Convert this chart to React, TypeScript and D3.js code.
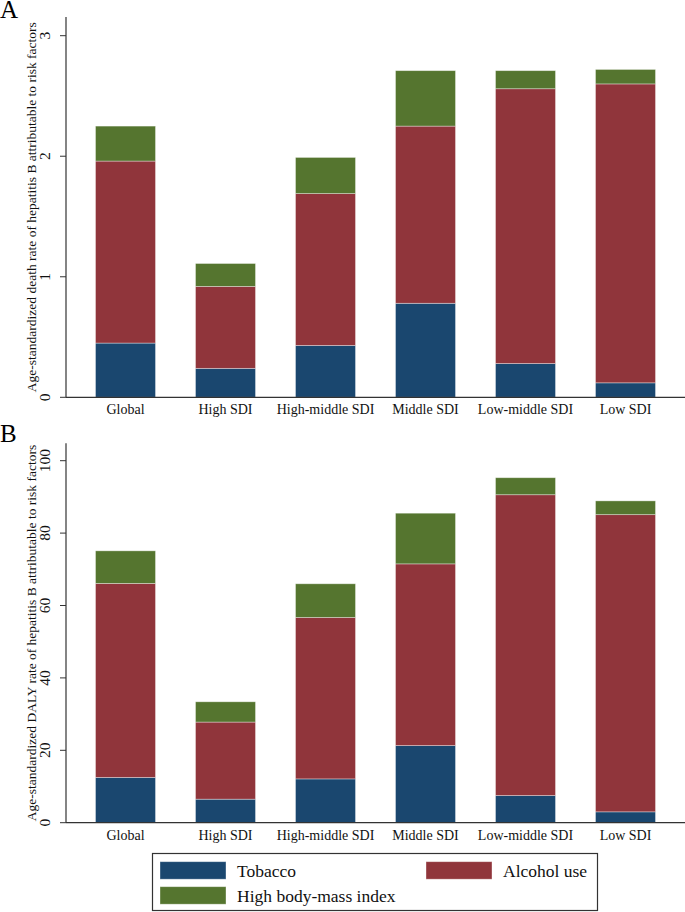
import React from 'react';
import * as d3 from 'd3';

const categories = ['Global', 'High SDI', 'High-middle SDI', 'Middle SDI', 'Low-middle SDI', 'Low SDI'];
const seriesNames = ['Tobacco', 'Alcohol use', 'High body-mass index'];
const seriesColors = ['#1a476f', '#90353b', '#55752f'];

// panel A: age-standardized death rate
const tobaccoDeath = [0.45, 0.24, 0.43, 0.78, 0.28, 0.12];
const alcoholDeath = [1.51, 0.68, 1.26, 1.47, 2.28, 2.48];
const bmiDeath = [0.29, 0.19, 0.30, 0.46, 0.15, 0.12];
const deathTicks = [0, 1, 2, 3];

// panel B: age-standardized DALY rate
const tobaccoDaly = [12.5, 6.5, 12.1, 21.3, 7.5, 3.0];
const alcoholDaly = [53.6, 21.3, 44.6, 50.2, 83.1, 82.1];
const bmiDaly = [9.0, 5.6, 9.3, 14.0, 4.7, 3.8];
const dalyTicks = [0, 20, 40, 60, 80, 100];

const font = '"Liberation Serif", "Times New Roman", serif';
const W = 685;
const H = 912;
const axisX = 66;

type PanelProps = {
  letter: string;
  letterY: number;
  title: string;
  series: number[][];
  ticks: number[];
  maxTick: number;
  y0: number; // pixel of 0
  yMax: number; // pixel of maxTick
  axisTop: number;
};

const Panel: React.FC<PanelProps> = ({ letter, letterY, title, series, ticks, maxTick, y0, yMax, axisTop }) => {
  const x = d3.scaleBand<string>().domain(categories).range([75.5, 675.5]).paddingInner(0.4).paddingOuter(0.2);
  const y = d3.scaleLinear().domain([0, maxTick]).range([y0, yMax]);

  const rows = categories.map((c, i) => {
    const r: any = { cat: c };
    seriesNames.forEach((s, j) => (r[s] = series[j][i]));
    return r;
  });
  const stacked = d3.stack<any>().keys(seriesNames)(rows);
  const titleMid = (y0 + axisTop) / 2;

  return (
    <g>
      <text x={0} y={letterY} fontSize={25} fontFamily={font}>{letter}</text>
      {stacked.map((layer, j) => (
        <g key={layer.key}>
          {layer.map((d, i) => (
            <rect
              key={i}
              x={x(categories[i])}
              width={x.bandwidth()}
              y={y(d[1])}
              height={y(d[0]) - y(d[1])}
              fill={seriesColors[j]}
              stroke="#ffffff"
              strokeOpacity={0.45}
              strokeWidth={0.8}
            />
          ))}
        </g>
      ))}
      {/* axes */}
      <line x1={axisX} x2={W} y1={y0} y2={y0} stroke="#333" strokeWidth={1.2} />
      <line x1={axisX} x2={axisX} y1={y0} y2={axisTop} stroke="#333" strokeWidth={1.2} />
      {ticks.map(t => (
        <g key={t}>
          <line x1={axisX - 6} x2={axisX} y1={y(t)} y2={y(t)} stroke="#333" strokeWidth={1} />
          <text
            transform={`translate(50, ${y(t)}) rotate(-90)`}
            textAnchor="middle"
            fontSize={15.5}
            fontFamily={font}
            fill="#111"
          >
            {t}
          </text>
        </g>
      ))}
      {categories.map(c => (
        <text key={c} x={(x(c) as number) + x.bandwidth() / 2} y={y0 + 17} textAnchor="middle" fontSize={14} fontFamily={font} fill="#111">
          {c}
        </text>
      ))}
      <text transform={`translate(36, ${titleMid}) rotate(-90)`} textAnchor="middle" fontSize={13.5} fontFamily={font} fill="#111">
        {title}
      </text>
    </g>
  );
};

const Legend: React.FC = () => {
  const pos = [
    { x: 160, y: 861.7 },
    { x: 426, y: 861.7 },
    { x: 160, y: 886.7 },
  ];
  return (
    <g>
      <rect x={152.5} y={853.5} width={445} height={57} fill="#fff" stroke="#333" strokeWidth={1.2} />
      {seriesNames.map((s, i) => (
        <g key={s}>
          <rect x={pos[i].x} y={pos[i].y} width={66} height={17.5} fill={seriesColors[i]} stroke="#ffffff" strokeOpacity={0.45} strokeWidth={0.8} />
          <text x={pos[i].x + 77} y={pos[i].y + 15} fontSize={17.5} fontFamily={font} fill="#111">
            {s}
          </text>
        </g>
      ))}
    </g>
  );
};

export default function App() {
  return (
    <div style={{ position: 'absolute', left: 0, top: 0 }}>
      <svg width={W} height={H} style={{ display: 'block', background: '#fff' }}>
        <Panel
          letter="A"
          letterY={18}
          title="Age-standardized death rate of hepatitis B attributable to risk factors"
          series={[tobaccoDeath, alcoholDeath, bmiDeath]}
          ticks={deathTicks}
          maxTick={3}
          y0={397.3}
          yMax={35.7}
          axisTop={17}
        />
        <Panel
          letter="B"
          letterY={442}
          title="Age-standardized DALY rate of hepatitis B attributable to risk factors"
          series={[tobaccoDaly, alcoholDaly, bmiDaly]}
          ticks={dalyTicks}
          maxTick={100}
          y0={822.7}
          yMax={460.7}
          axisTop={443.3}
        />
        <Legend />
      </svg>
    </div>
  );
}
